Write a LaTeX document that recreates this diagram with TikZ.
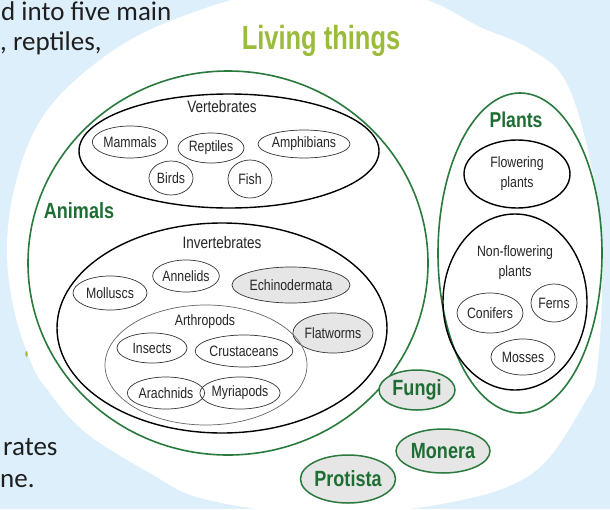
\documentclass[tikz,border=0pt]{standalone}
\usepackage{fontspec}
\setmainfont{Liberation Sans}
\newfontfamily\narrow{Liberation Sans}[FakeStretch=0.82]
\newfontfamily\narrowT{Liberation Sans}[FakeStretch=0.76]
\newfontfamily\slide{Carlito}
\usetikzlibrary{shapes.geometric}
\definecolor{bgblue}{HTML}{DEEFFC}
\definecolor{lgreen}{HTML}{9BBB3B}
\definecolor{dgreen}{HTML}{1E6E34}
\definecolor{eline}{HTML}{2A7A3E}
\definecolor{fillgray}{HTML}{E6E6E6}
\definecolor{slideink}{HTML}{1F1F1F}
\begin{document}
\begin{tikzpicture}[x=1pt,y=-1pt,
  sz/.style 2 args={minimum width=#1pt, minimum height=#2pt},
  ell/.style={ellipse, inner sep=0pt},
  grp/.style={ell, draw=eline, line width=1.6pt},
  cls/.style={ell, draw=black, line width=1.4pt},
  sm/.style={ell, draw=black!80, line width=0.7pt, font=\narrow\fontsize{15}{17}\selectfont, text=black!85},
  gsm/.style={sm, fill=fillgray},
  kingdom/.style={ell, draw=eline, line width=1.5pt, fill=fillgray, font=\narrow\bfseries\fontsize{22}{24}\selectfont, text=dgreen},
  head/.style={anchor=base, inner sep=0pt, font=\narrow\fontsize{16.5}{18}\selectfont, text=black!85},
  sub/.style={align=center, inner sep=0pt, font=\narrow\fontsize{15}{20}\selectfont, text=black!85},
  ghead/.style={anchor=base, inner sep=0pt, font=\narrow\bfseries\fontsize{22}{24}\selectfont, text=dgreen},
  slidetxt/.style={font=\slide\fontsize{27}{32}\selectfont, text=slideink, anchor=base west, inner sep=0pt}
]
\fill[bgblue] (0,0) rectangle (610,509);
\useasboundingbox (0,0) rectangle (610,509);
% white backdrop
\fill[white] plot[smooth cycle, tension=0.6] coordinates {
 (330,-12) (420,-2) (480,27) (528,48) (566,82) (592,170) (602,270) (597,370)
 (585,402) (547,460) (507,487) (447,503) (380,512) (300,514) (200,498)
 (150,473) (100,443) (72,420) (50,393) (33,367) (14,310) (7,250) (14,190)
 (35,130) (70,85) (130,40) (200,10) (260,-6)};
% slide text fragments
\node[slidetxt] (t1) at (1,20) {d into five main};
\node[slidetxt] (t2) at (0,50) {, reptiles,};
\node[slidetxt] (t3) at (3,455) {rates};
\node[slidetxt] (t4) at (0,487) {ne.};
\fill[lgreen] (26.5,354) ellipse [x radius=1.2pt, y radius=3pt];
% title
\node[anchor=base, inner sep=0pt, font=\narrowT\bfseries\fontsize{33.5}{36}\selectfont, text=lgreen] (living) at (321,49) {Living things};
% Animals
\node[grp, sz={400}{384}] (animals) at (228,263) {};
\node[ghead] (animalslbl) at (79,218) {Animals};
\node[cls, sz={300}{114}] (vert) at (229,151) {};
\node[head] (vertlbl) at (222,112) {Vertebrates};
\node[sm, sz={74}{32}] (mammals) at (130,142) {Mammals};
\node[sm, sz={66}{30}] (reptiles) at (211,148) {Reptiles};
\node[sm, sz={92}{28}] (amphibians) at (304,144) {Amphibians};
\node[sm, sz={44}{34}] (birds) at (171,178) {Birds};
\node[sm, sz={44}{38}] (fish) at (250,179) {Fish};
\node[cls, sz={330}{210}] (invert) at (222,328) {};
\node[head] (invertlbl) at (222,248) {Invertebrates};
\node[sm, sz={74}{34}] (molluscs) at (110,293) {Molluscs};
\node[sm, sz={66}{32}] (annelids) at (186,276) {Annelids};
\node[gsm, sz={118}{36}] (echino) at (291,285) {Echinodermata};
\node[gsm, sz={80}{40}] (flatworms) at (333,333) {Flatworms};
\node[ell, draw=black!60, line width=0.7pt, sz={202}{120}] (arthro) at (206,365) {};
\node[head, font=\narrow\fontsize{15}{17}\selectfont] (arthrolbl) at (205,325) {Arthropods};
\node[sm, sz={70}{30}] (insects) at (152,348) {Insects};
\node[sm, sz={90}{32}] (crust) at (244,351) {Crustaceans};
\node[sm, sz={74}{32}] (arach) at (166,393) {Arachnids};
\node[sm, sz={74}{32}] (myria) at (240,393) {Myriapods};
% Plants
\node[grp, sz={164}{320}] (plants) at (520,253) {};
\node[ghead, font=\narrow\bfseries\fontsize{21.5}{24}\selectfont] (plantslbl) at (516,127) {Plants};
\node[cls, sz={106}{68}] (flowering) at (517,174) {};
\node[sub] (flowlbl) at (517,174) {Flowering\\plants};
\node[cls, sz={144}{176}] (nonflow) at (515,302) {};
\node[sub] (nonflowlbl) at (515,263) {Non-flowering\\plants};
\node[sm, sz={66}{40}] (conifers) at (490,313) {Conifers};
\node[sm, sz={46}{38}] (ferns) at (554,303) {Ferns};
\node[sm, sz={64}{36}] (mosses) at (523,357) {Mosses};
% other kingdoms
\node[kingdom, sz={76}{40}] (fungi) at (417,390) {Fungi};
\node[kingdom, sz={94}{44}] (monera) at (443,451) {Monera};
\node[kingdom, sz={90}{48}] (protista) at (348,479) {Protista};
\end{tikzpicture}
\end{document}
